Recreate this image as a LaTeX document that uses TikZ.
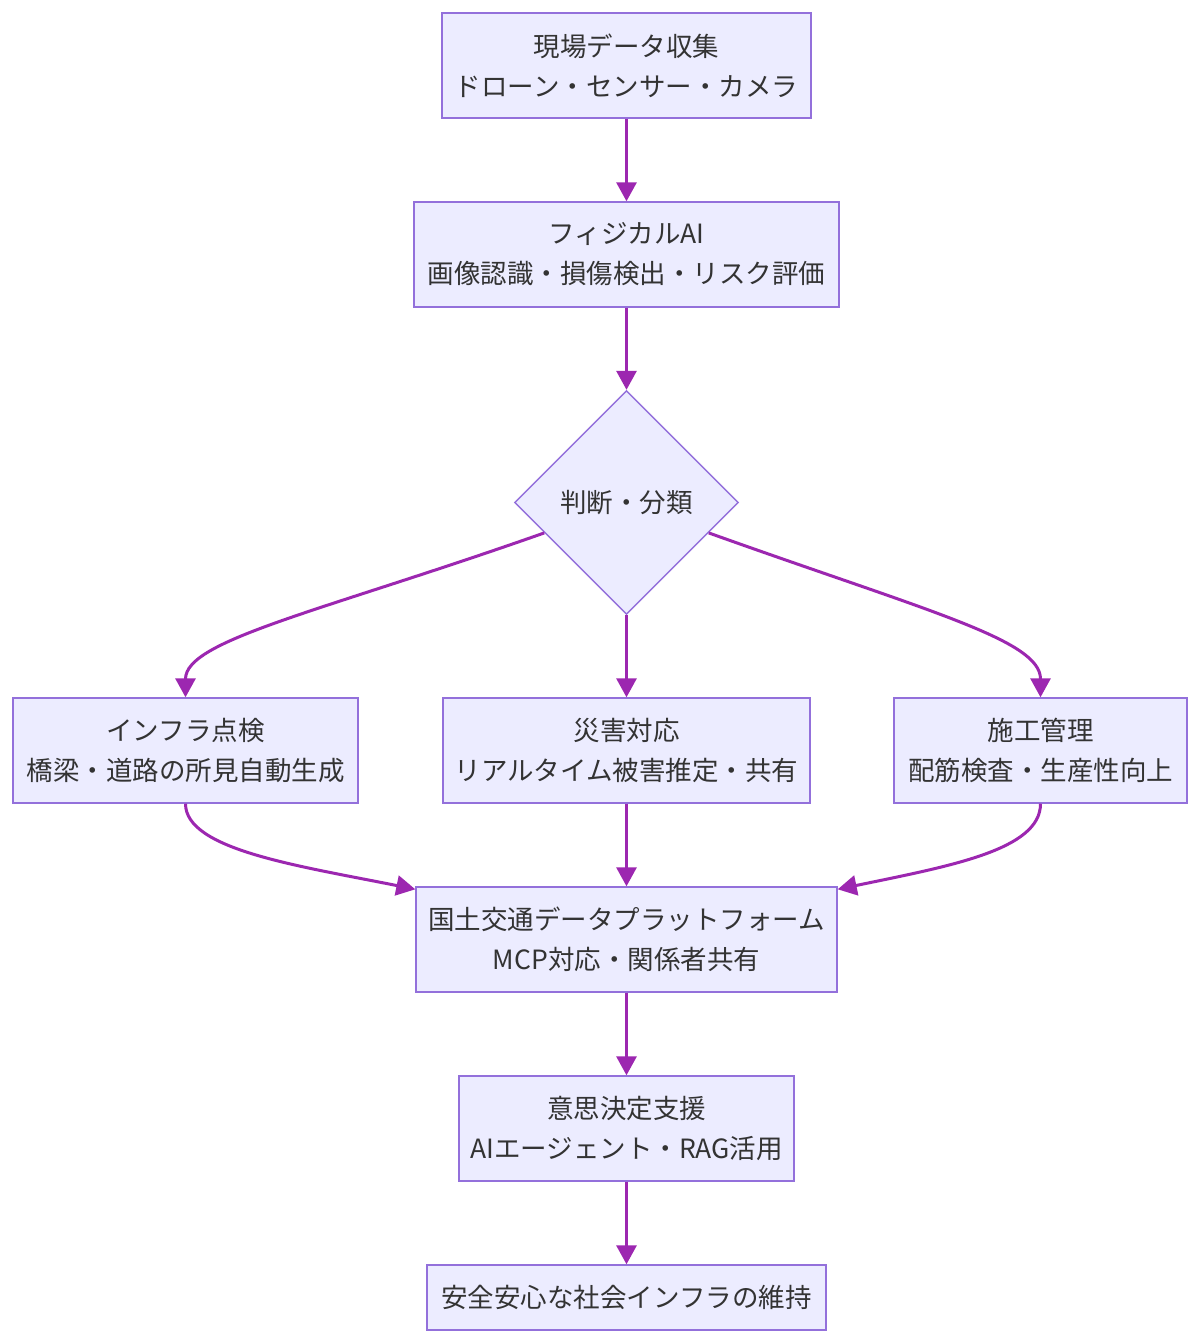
\documentclass[tikz,border=0pt]{standalone}
\usepackage{fontspec}
\setmainfont{Noto Sans CJK JP}
\usetikzlibrary{arrows.meta,shapes.geometric,calc}
\definecolor{nodefill}{HTML}{ECECFF}
\definecolor{nodeline}{HTML}{9370DB}
\definecolor{edgecol}{HTML}{9C27B0}
\definecolor{txt}{HTML}{333333}
\begin{document}
\begin{tikzpicture}[x=1pt,y=-1pt,
  box/.style={draw=nodeline,fill=nodefill,line width=1.4pt,text=txt,align=center,
    minimum height=105pt,inner sep=0pt,font=\fontsize{26.5}{40}\selectfont},
  dia/.style={draw=nodeline,fill=nodefill,line width=1.4pt,text=txt,diamond,
    minimum width=224pt,minimum height=224pt,inner sep=0pt,font=\fontsize{26.5}{40}\selectfont},
  edge/.style={draw=edgecol,line width=3pt,-{Triangle[length=19pt,width=20pt]}}]
\useasboundingbox[fill=white] (0,0) rectangle (1200,1343);
\node[box,minimum width=369pt] (n1) at (626.5,65.5) {現場データ収集\\ドローン・センサー・カメラ};
\node[box,minimum width=425pt] (n2) at (626.5,254.5) {フィジカルAI\\画像認識・損傷検出・リスク評価};
\node[dia] (d) at (626.5,502.5) {判断・分類};
\node[box,minimum width=345pt] (n4) at (185.5,750.5) {インフラ点検\\橋梁・道路の所見自動生成};
\node[box,minimum width=367pt] (n5) at (626.5,750.5) {災害対応\\リアルタイム被害推定・共有};
\node[box,minimum width=293pt] (n6) at (1040.5,750.5) {施工管理\\配筋検査・生産性向上};
\node[box,minimum width=421pt] (n7) at (626.5,939.5) {国土交通データプラットフォーム\\MCP対応・関係者共有};
\node[box,minimum width=335pt] (n8) at (626.5,1128.5) {意思決定支援\\AIエージェント・RAG活用};
\node[box,minimum width=399pt,minimum height=65pt] (n9) at (626.5,1297.5) {安全安心な社会インフラの維持};
\coordinate (dl) at ($(d.west)!0.27!(d.south)$);
\coordinate (dr) at ($(d.east)!0.27!(d.south)$);
\draw[edge] (n1.south) -- (n2.north);
\draw[edge] (n2.south) -- (d.north);
\draw[edge] (dl) .. controls (320,612) and (185.5,640) .. (n4.north);
\draw[edge] (d.south) -- (n5.north);
\draw[edge] (dr) .. controls (930,612) and (1040.5,640) .. (n6.north);
\draw[edge] (n4.south) .. controls (185.5,850) and (300,866) .. ($(n7.north west)+(0,3)$);
\draw[edge] (n5.south) -- (n7.north);
\draw[edge] (n6.south) .. controls (1040.5,850) and (950,866) .. ($(n7.north east)+(0,3)$);
\draw[edge] (n7.south) -- (n8.north);
\draw[edge] (n8.south) -- (n9.north);
\end{tikzpicture}
\end{document}
